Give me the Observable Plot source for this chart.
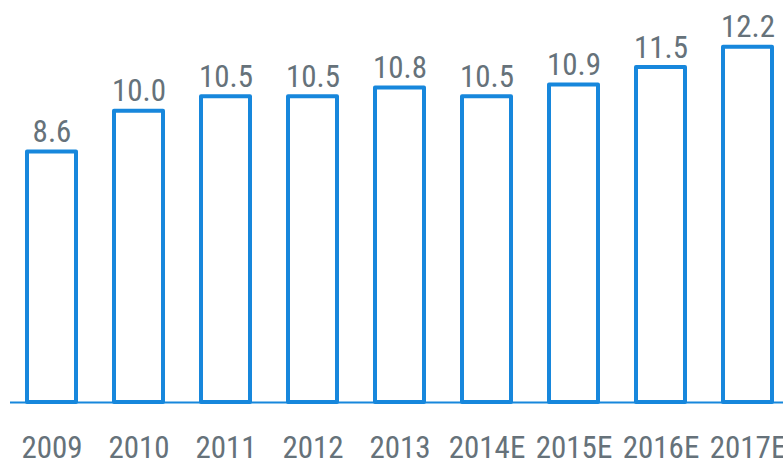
<!DOCTYPE html>
<html><head><meta charset="utf-8">
<script src="https://cdn.jsdelivr.net/npm/d3@7"></script>
<script src="https://cdn.jsdelivr.net/npm/@observablehq/plot@0.6"></script>
<style>html,body{margin:0;padding:0;background:#fff;}svg{display:block;}</style>
</head><body><div id="chart"></div>
<script>
const years = ["2009","2010","2011","2012","2013","2014E","2015E","2016E","2017E"];
const values = [8.6,10.0,10.5,10.5,10.8,10.5,10.9,11.5,12.2];
const data = years.map((y,i)=>({year:y, value:values[i]}));
const blue = "#1787dc";
const gray = "#66727a";
const chart = Plot.plot({
  width: 783, height: 465,
  marginLeft: 10, marginRight: 0, marginTop: 0, marginBottom: 63,
  style: {fontFamily: "'Roboto Condensed', Roboto", background: "#fff", overflow: "visible"},
  x: {domain: years, range: [18.4, 781.1], paddingInner: 0.44, paddingOuter: 0.1, label: null},
  y: {domain: [0, 12.2], range: [402, 46.7], axis: null},
  marks: [
    Plot.barY(data, {x: "year", y: "value", fill: "white", stroke: blue, strokeWidth: 4, strokeLinejoin: "round"}),
    Plot.ruleY([0], {stroke: blue, strokeWidth: 2}),
    Plot.text(data, {x: "year", y: "value", text: d => d.value.toFixed(1), lineAnchor: "bottom", dy: -10, fontSize: 31, fill: gray}),
    Plot.axisX({tickSize: 0, tickPadding: 33, fontSize: 31, fill: gray, label: null})
  ]
});
document.getElementById("chart").append(chart);
</script></body></html>
